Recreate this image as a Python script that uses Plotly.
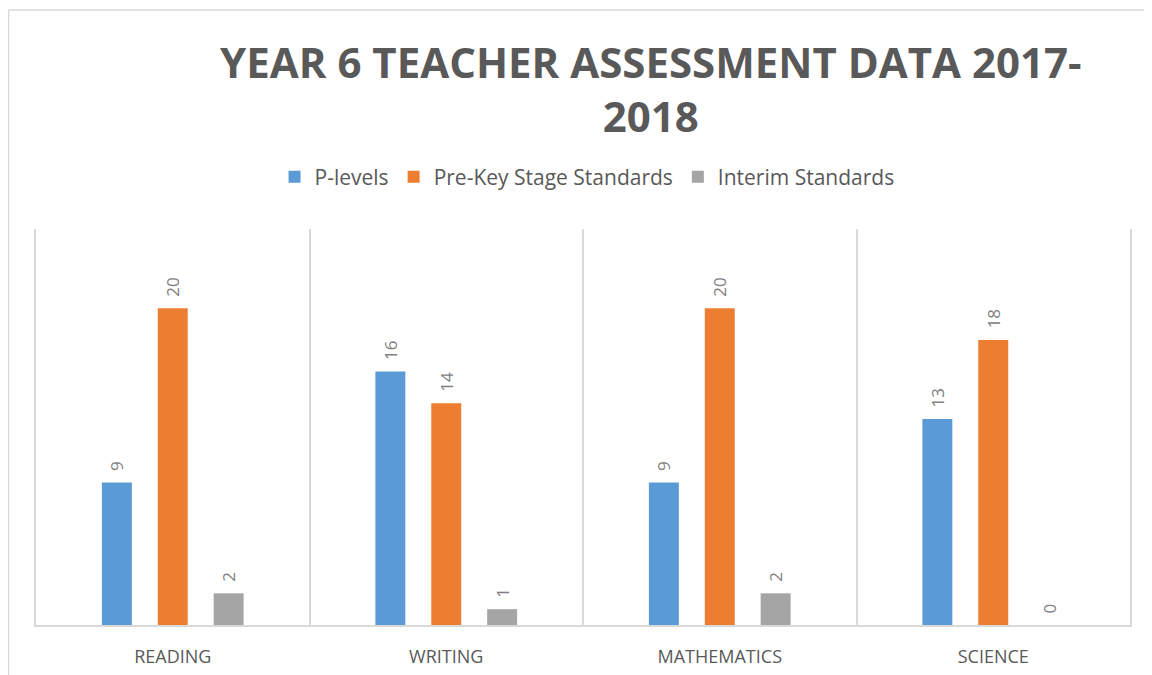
import plotly.graph_objects as go

categories = ["READING", "WRITING", "MATHEMATICS", "SCIENCE"]
series_names = ["P-levels", "Pre-Key Stage Standards", "Interim Standards"]
p_levels = [9, 16, 9, 13]
pre_key = [20, 14, 20, 18]
interim = [2, 1, 2, 0]
colors = ["#5B9BD5", "#ED7D31", "#A5A5A5"]
title_text = "YEAR 6 TEACHER ASSESSMENT DATA 2017-<br>2018"

fig = go.Figure()
for name, vals, col in zip(series_names, [p_levels, pre_key, interim], colors):
    fig.add_trace(go.Bar(
        x=categories, y=vals, name=name, marker=dict(color=col, line=dict(width=0)),
        texttemplate="\u2002%{y}", textposition="outside", textangle=-90,
        textfont=dict(family="Open Sans", size=17, color="#808080"),
        cliponaxis=False, constraintext="none",
    ))

fig.update_layout(
    width=1152, height=675,
    paper_bgcolor="white", plot_bgcolor="white",
    barmode="group", bargap=0.387, bargroupgap=0.464,
    margin=dict(l=28, r=30, t=221, b=58),
    title=dict(text=title_text, x=0.562, xanchor="center", xref="paper",
               y=0.897, yanchor="middle", yref="container",
               font=dict(family="Open Sans", size=42, color="#595959", weight="bold")),
    legend=dict(orientation="h", x=0.5037, xanchor="center", y=1.131, yanchor="middle",
                font=dict(family="Open Sans", size=21, color="#595959"),
                itemwidth=30, traceorder="normal"),
    xaxis=dict(tickson="boundaries", showgrid=True, gridcolor="#d9d9d9", gridwidth=1.5,
               showline=True, linecolor="#d9d9d9", linewidth=2, ticks="",
               ticklabelstandoff=14,
               tickfont=dict(family="Open Sans", size=18, color="#595959"),
               fixedrange=True),
    yaxis=dict(range=[0, 25], showticklabels=False, showgrid=False, zeroline=False,
               showline=True, mirror=True, linecolor="#d9d9d9", linewidth=1.5, ticks=""),
    showlegend=True,
)
# outer chart frame
fig.add_shape(type="line", xref="paper", yref="paper", x0=-0.0251, x1=-0.0251, y0=-0.146, y1=1.553,
              line=dict(color="#d9d9d9", width=1.5))
fig.add_shape(type="line", xref="paper", yref="paper", x0=-0.0251, x1=1.03, y0=1.553, y1=1.553,
              line=dict(color="#d9d9d9", width=1.5))

fig.write_html("out.html")
